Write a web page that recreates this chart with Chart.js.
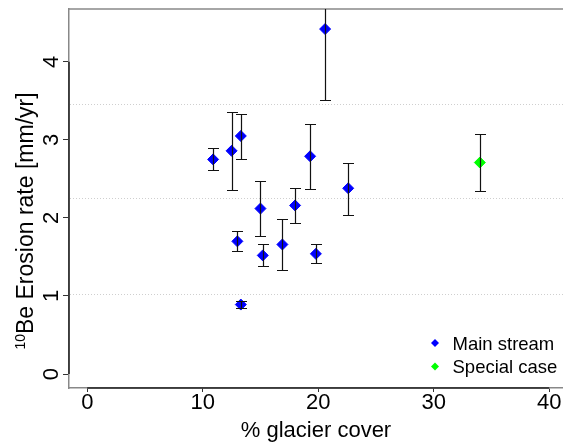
<!DOCTYPE html>
<html>
<head>
<meta charset="utf-8">
<script src="https://cdn.jsdelivr.net/npm/chart.js@4.4.1/dist/chart.umd.min.js"></script>
<style>
  html, body { margin: 0; padding: 0; background: #fff; }
</style>
</head>
<body>
<canvas id="chart" width="563" height="443"></canvas>
<script>
// Main stream samples: % glacier cover vs 10Be erosion rate (mm/yr), with error bounds
const mainCover = [10.9, 12.5, 13.3, 13.0, 13.3, 15.0, 15.2, 16.9, 18.0, 19.3, 19.8, 20.6, 22.6];
const mainRate  = [2.75, 2.86, 3.05, 1.70, 0.89, 2.12, 1.52, 1.66, 2.16, 2.79, 1.54, 4.42, 2.38];
const mainLow   = [2.62, 2.36, 2.76, 1.57, 0.84, 1.77, 1.38, 1.33, 1.94, 2.37, 1.42, 3.51, 2.04];
const mainHigh  = [2.89, 3.36, 3.33, 1.83, 0.94, 2.47, 1.66, 1.99, 2.38, 3.20, 1.66, 5.33, 2.71];

// Special case sample
const specialCover = [34.0];
const specialRate  = [2.71];
const specialLow   = [2.34];
const specialHigh  = [3.08];

const xTicks = [0, 10, 20, 30, 40];
const yTicks = [0, 1, 2, 3, 4];
const gridLevels = [1.03, 2.25, 3.46];

const FONT = 'Liberation Sans, Arial, Helvetica, sans-serif';

function toPoints(xs, ys, lo, hi) {
  return xs.map((v, i) => ({ x: v, y: ys[i], lo: lo[i], hi: hi[i] }));
}

// dotted horizontal reference lines behind the points, plus the top frame line
const refLines = {
  id: 'refLines',
  beforeDatasetsDraw(chart) {
    const { ctx, chartArea, scales: { y } } = chart;
    ctx.save();
    ctx.strokeStyle = '#cfcfcf';
    ctx.lineWidth = 1;
    ctx.setLineDash([1, 2]);
    gridLevels.forEach(v => {
      const py = Math.round(y.getPixelForValue(v)) + 0.5;
      ctx.beginPath();
      ctx.moveTo(chartArea.left + 1, py);
      ctx.lineTo(chartArea.right, py);
      ctx.stroke();
    });
    ctx.setLineDash([]);
    ctx.strokeStyle = '#888';
    ctx.lineWidth = 1.5;
    ctx.beginPath();
    ctx.moveTo(chartArea.left, chartArea.top);
    ctx.lineTo(chartArea.right, chartArea.top);
    ctx.stroke();
    ctx.restore();
  }
};

// vertical error bars with caps, drawn over the markers
const errorBars = {
  id: 'errorBars',
  afterDatasetsDraw(chart) {
    const { ctx, chartArea, scales: { x, y } } = chart;
    ctx.save();
    ctx.beginPath();
    ctx.rect(chartArea.left, chartArea.top, chartArea.right - chartArea.left, chartArea.bottom - chartArea.top);
    ctx.clip();
    ctx.strokeStyle = '#111';
    ctx.lineWidth = 1.2;
    chart.data.datasets.forEach(ds => {
      ds.data.forEach(p => {
        const px = Math.round(x.getPixelForValue(p.x)) + 0.5;
        const top = Math.round(y.getPixelForValue(p.hi)) + 0.5;
        const bot = Math.round(y.getPixelForValue(p.lo)) + 0.5;
        ctx.beginPath();
        ctx.moveTo(px, top); ctx.lineTo(px, bot);
        ctx.moveTo(px - 5.5, top); ctx.lineTo(px + 5.5, top);
        ctx.moveTo(px - 5.5, bot); ctx.lineTo(px + 5.5, bot);
        ctx.stroke();
      });
    });
    ctx.restore();
  }
};

// dark axis lines over the tick range, y title with superscript, legend in the corner
const decorations = {
  id: 'decorations',
  afterDraw(chart) {
    const { ctx, chartArea, scales: { x, y } } = chart;
    ctx.save();
    ctx.strokeStyle = '#222';
    ctx.lineWidth = 1.5;
    ctx.beginPath();
    ctx.moveTo(x.getPixelForValue(xTicks[0]), chartArea.bottom);
    ctx.lineTo(x.getPixelForValue(xTicks[xTicks.length - 1]), chartArea.bottom);
    ctx.moveTo(chartArea.left, y.getPixelForValue(yTicks[0]));
    ctx.lineTo(chartArea.left, y.getPixelForValue(yTicks[yTicks.length - 1]));
    ctx.stroke();

    // y axis title
    const sup = '10';
    const main = 'Be Erosion rate [mm/yr]';
    ctx.fillStyle = '#000';
    ctx.textBaseline = 'alphabetic';
    ctx.textAlign = 'left';
    ctx.font = '14px ' + FONT;
    const wSup = ctx.measureText(sup).width;
    ctx.font = '23px ' + FONT;
    const wMain = ctx.measureText(main).width;
    ctx.translate(33, 221);
    ctx.rotate(-Math.PI / 2);
    const start = -(wSup + wMain) / 2;
    ctx.font = '14px ' + FONT;
    ctx.fillText(sup, start, -8.5);
    ctx.font = '23px ' + FONT;
    ctx.fillText(main, start + wSup, 0);
    ctx.restore();

    // legend
    ctx.save();
    ctx.font = '18.5px ' + FONT;
    ctx.textBaseline = 'alphabetic';
    chart.data.datasets.forEach((ds, i) => {
      const cx = chartArea.right - 128;
      const cy = chartArea.bottom - 45 + i * 23.4;
      ctx.beginPath();
      ctx.moveTo(cx - 4, cy);
      ctx.lineTo(cx, cy - 4);
      ctx.lineTo(cx + 4, cy);
      ctx.lineTo(cx, cy + 4);
      ctx.closePath();
      ctx.fillStyle = ds.backgroundColor;
      ctx.fill();
      ctx.fillStyle = '#000';
      ctx.fillText(ds.label, cx + 17.5, cy + 6.8);
    });
    ctx.restore();
  }
};

new Chart(document.getElementById('chart'), {
  type: 'scatter',
  data: {
    datasets: [
      {
        label: 'Main stream',
        data: toPoints(mainCover, mainRate, mainLow, mainHigh),
        backgroundColor: '#0000ff',
        borderColor: '#0000ff',
        pointStyle: 'rectRot',
        pointRadius: 5.5,
        borderWidth: 1
      },
      {
        label: 'Special case',
        data: toPoints(specialCover, specialRate, specialLow, specialHigh),
        backgroundColor: '#00ff00',
        borderColor: '#00ff00',
        pointStyle: 'rectRot',
        pointRadius: 5.5,
        borderWidth: 1
      }
    ]
  },
  options: {
    responsive: false,
    animation: false,
    devicePixelRatio: 1,
    layout: { autoPadding: false, padding: { top: 9, left: 0, right: 0, bottom: 0 } },
    plugins: { legend: { display: false }, tooltip: { enabled: false } },
    scales: {
      x: {
        type: 'linear',
        position: 'bottom',
        min: -1.58,
        max: 41.2,
        afterBuildTicks: s => { s.ticks = xTicks.map(v => ({ value: v })); },
        afterFit: s => { s.height = 55; s.paddingLeft = 0; s.paddingRight = 0; },
        ticks: { color: '#000', font: { family: FONT, size: 22, lineHeight: 1 }, padding: 0, maxRotation: 0 },
        grid: { drawOnChartArea: false, drawTicks: true, tickLength: 4, color: '#333' },
        border: { color: '#888', width: 1.5 },
        title: { display: true, text: '% glacier cover', color: '#000', font: { family: FONT, size: 22 }, padding: { top: 0, bottom: -1 } }
      },
      y: {
        type: 'linear',
        position: 'left',
        min: -0.179,
        max: 4.677,
        afterBuildTicks: s => { s.ticks = yTicks.map(v => ({ value: v })); },
        afterFit: s => { s.width = 69; s.paddingTop = 0; s.paddingBottom = 0; },
        ticks: { color: '#000', font: { family: FONT, size: 22, lineHeight: 1 }, minRotation: 90, maxRotation: 90, crossAlign: 'center', padding: 5 },
        grid: { drawOnChartArea: false, drawTicks: true, tickLength: 6, color: '#333' },
        border: { color: '#888', width: 1.5 }
      }
    }
  },
  plugins: [refLines, errorBars, decorations]
});
</script>
</body>
</html>
